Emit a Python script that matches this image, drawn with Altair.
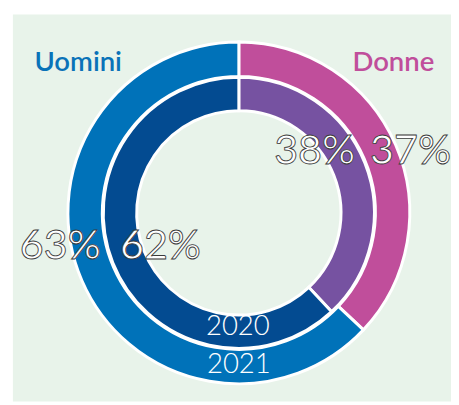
import altair as alt
import pandas as pd

# ---- data ----
genders = ["Donne", "Uomini"]
years = ["2020", "2021"]
share_2020 = [38, 62]
share_2021 = [37, 63]
colors_2020 = ["#7652a1", "#034b91"]
colors_2021 = ["#c04e9b", "#0072b9"]
legend_colors = ["#c04e9b", "#0a72b8"]

W, H = 451, 397
CX, CY = 235, 205
FONT = "Lato"


def ring(values, colors, r_in, r_out):
    df = pd.DataFrame({"gender": genders, "value": values,
                       "color": colors, "ord": list(range(len(genders)))})
    return alt.Chart(df).mark_arc(
        stroke="white", strokeWidth=3, x=CX, y=CY,
        radius=r_out, radius2=r_in
    ).encode(
        theta=alt.Theta("value:Q", stack=True),
        order=alt.Order("ord:Q"),
        color=alt.Color("color:N", scale=None),
    )


def label(text, x, y, size, color, weight="normal", align="center",
          stroke=None, sw=0):
    df = pd.DataFrame({"t": [text]})
    kw = dict(fontSize=size, font=FONT, fontWeight=weight, align=align,
              baseline="middle", fill=color)
    if stroke:
        kw.update(stroke=stroke, strokeWidth=sw)
    return alt.Chart(df).mark_text(**kw).encode(
        text="t:N", x=alt.value(x), y=alt.value(y))


bg = alt.Chart(pd.DataFrame({"a": [0]})).mark_rect(color="#e8f3ea").encode(
    x=alt.value(5), x2=alt.value(W), y=alt.value(3), y2=alt.value(H))

outer = ring(share_2021, colors_2021, 139, 174)
inner = ring(share_2020, colors_2020, 104, 138)

PCT = dict(weight=400, stroke="#3a3a3a", sw=0.9)

layers = [
    bg, outer, inner,
    label(genders[1], 27, 53, 28, legend_colors[1], weight=600, align="left"),
    label(genders[0], 434, 53, 28, legend_colors[0], weight=600, align="right"),
    label(years[0], CX - 1, 321, 28, "white", weight=300),
    label(years[1], CX, 360, 28, "white", weight=300),
    label(f"{share_2020[0]}%", 271, 142, 42, "white", align="left", **PCT),
    label(f"{share_2021[0]}%", 451, 142, 42, "white", align="right", **PCT),
    label(f"{share_2021[1]}%", 12, 239, 42, "white", align="left", **PCT),
    label(f"{share_2020[1]}%", 114, 239, 42, "white", align="left", **PCT),
]

chart = alt.layer(*layers).properties(
    width=W, height=H, padding=0,
    autosize=alt.AutoSizeParams(type="none"),
    background="white",
).configure_view(stroke=None)

chart.save("out.html", embed_options={"renderer": "svg", "actions": False})
